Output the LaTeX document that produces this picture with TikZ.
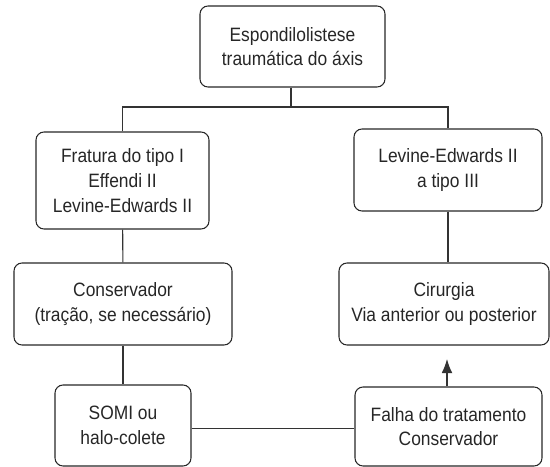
\documentclass[tikz,border=0pt]{standalone}
\usepackage{fontspec}
\setmainfont[FakeStretch=0.9]{Liberation Sans}
\usepackage{tikz}
\usetikzlibrary{positioning,arrows.meta,calc}

\begin{document}
\begin{tikzpicture}[
  x=0.75pt, y=-0.75pt,
  >={Latex[length=10.5pt, width=8pt]},
  box/.style={draw=black!85, line width=0.8pt, rounded corners=6pt, align=center, inner sep=0pt,
    text=black!85, font=\fontsize{14.5pt}{18.5pt}\selectfont},
  link/.style={draw=black!80, line width=0.8pt}
]
  \useasboundingbox (0,0) rectangle (550,467);

  \node (espondilo) [box, minimum width=185*0.75pt, minimum height=81*0.75pt] at (292.5,46.5) {Espondilolistese\\traumática do áxis};

  % ramo esquerdo
  \node (tipo-i) [box, minimum width=173*0.75pt, minimum height=97*0.75pt] at (122.5,180.5) {Fratura do tipo I\\Effendi II\\Levine-Edwards II};
  \node (conservador) [box, minimum width=218*0.75pt, minimum height=82*0.75pt] at (123,304) {Conservador\\(tração, se necessário)};
  \node (somi) [box, minimum width=136*0.75pt, minimum height=81*0.75pt] at (123,425.5) {SOMI ou\\halo-colete};

  % ramo direito
  \node (tipo-iii) [box, minimum width=188*0.75pt, minimum height=82*0.75pt] at (448,170) {Levine-Edwards II\\a tipo III};
  \node (cirurgia) [box, minimum width=210*0.75pt, minimum height=82*0.75pt] at (444,304) {Cirurgia\\Via anterior ou posterior};
  \node (falha) [box, minimum width=187*0.75pt, minimum height=79*0.75pt] at (448.5,426.5) {Falha do tratamento\\Conservador};

  \coordinate (split) at (291,107);
  \coordinate (tip) at (447,359);

  \draw[link] (espondilo.south -| split) -- (split);
  \draw[link] (tipo-i.north) |- (split) -| (tipo-iii.north);
  \draw[link] (tipo-i) -- (conservador);
  \draw[link] (tipo-iii.south) -- (tipo-iii.south |- cirurgia.north);
  \draw[link] (conservador) -- (somi);
  \draw[link] ($(somi.east)+(0,3)$) -- ($(somi.east -| falha.west)+(0,3)$);
  \draw[link,->] (falha.north -| tip) -- (tip);
\end{tikzpicture}
\end{document}
